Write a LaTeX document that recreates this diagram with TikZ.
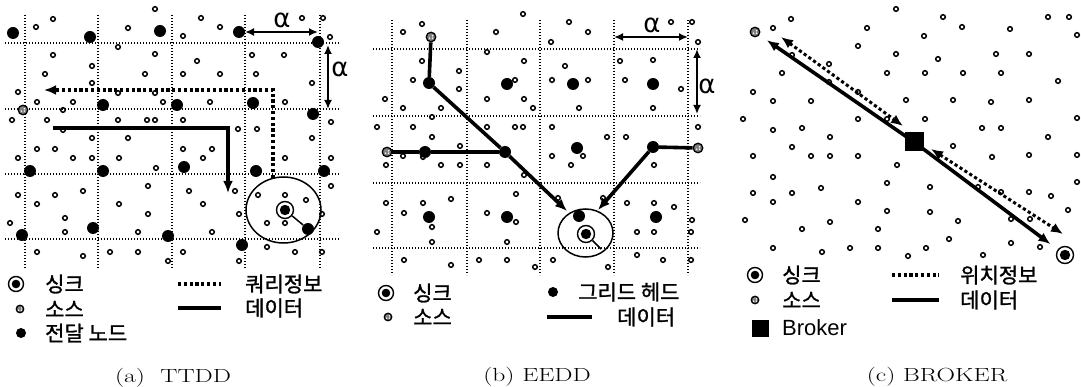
\documentclass[tikz,border=0pt]{standalone}
\usepackage{fontspec}
\newfontfamily\kr[FakeBold=1.2]{Noto Sans CJK KR}
\newfontfamily\lib{Liberation Sans}
\newfontfamily\dvs{DejaVu Sans}
\usetikzlibrary{arrows.meta,shapes.geometric}
\tikzset{
  gridln/.style={line width=1.6pt, dash pattern=on 1.4pt off 1.6pt},
  sm/.style={line width=1.5pt},
  gh/.style={circle, fill=black, inner sep=0pt, minimum size=12pt},
  src/.style={circle, draw=black, line width=1.3pt, fill=black!50, inner sep=0pt, minimum size=9.5pt,
     path picture={\fill[white] ([shift={(-1.5pt,-1.2pt)}]path picture bounding box.center) circle (0.8pt)
                               ([shift={(1.5pt,1.2pt)}]path picture bounding box.center) circle (0.8pt)
                               ([shift={(1.5pt,-1.2pt)}]path picture bounding box.center) circle (0.8pt);}},
  sinkn/.style={circle, draw=black, line width=1.4pt, inner sep=0pt, minimum size=17pt,
     path picture={\fill[black] (path picture bounding box.center) circle (5.2pt);}},
  datal/.style={line width=3.6pt},
  qry/.style={line width=3.6pt, dash pattern=on 3.2pt off 2.6pt},
  tip/.style={-{Latex[length=12pt,width=10pt]}},
  alph/.style={line width=1.8pt, {Latex[length=9pt,width=8pt]}-{Latex[length=9pt,width=8pt]}},
  lbl/.style={font=\kr\fontsize{21}{21}\selectfont, anchor=west, inner sep=0pt},
  albl/.style={font=\dvs\fontsize{26}{26}\selectfont, inner sep=0pt},
  capn/.style={font=\fontsize{19}{19}\selectfont, inner sep=0pt},
  rng/.style={ellipse, draw=black, line width=1.5pt, inner sep=0pt},
  thin/.style={line width=1.5pt}
}
\begin{document}
\begin{tikzpicture}[x=1pt,y=-1pt]
\useasboundingbox (0,0) rectangle (1081,387);
\fill[white] (0,0) rectangle (1081,387);

% ================= (a) TTDD =================
\foreach \y in {43,109,174,239} \draw[gridln] (5,\y) -- (340,\y);
\foreach \x in {25,98,172,245,320} \draw[gridln] (\x,15) -- (\x,268);
\foreach \x/\y in {155/9,53/19,36/27,128/28,201/18,220/27,302/18,323/18,330/37,183/36,118/47,53/55,155/54,197/61,252/55,284/55,92/66,45/74,145/74,183/74,220/74,256/74,312/83,92/83,18/92,118/93,155/93,37/102,73/102,163/102,210/102,285/102,63/110,12/120,47/120,118/120,147/120,155/120,183/120,238/129,257/129,331/122,63/130,92/138,128/138,312/138,37/149,55/149,18/158,73/158,92/158,119/158,183/149,212/149,203/158,156/168,285/158,331/158,331/186,148/186,83/191,55/195,18/195,189/191,235/191,258/195,285/195,306/200,37/204,119/204,203/204,148/214,239/214,322/214,65/218,267/223,285/223,10/223,65/232,138/232,212/232,267/247,295/252,322/252,37/252,83/256,110/252,138/252,183/252,168/261,239/261}
  \draw[sm] (\x,\y) circle (2.3pt);
\foreach \x/\y [count=\i] in {13/33,90/37,160/31,239/32,318/42,103/105,177/105,253/103,313/114,30/171,103/171,184/167,256/171,324/171,22/235,93/228,168/236,242/245}
  \node[gh] (fa\i) at (\x,\y) {};
\node[src] (srcA) at (23,110) {};
\node[rng, minimum width=75pt, minimum height=66pt] (rangeA) at (283.5,210) {};
\node[sinkn] (sinkA) at (285,210) {};
\node[gh] (fnA) at (308,229) {};
\draw[thin] (sinkA) -- (fnA);
\coordinate (q0) at (273,178);
\coordinate (q1) at (44,90);
\draw[qry, tip] (q0) |- (q1);
\coordinate (d0) at (53,128);
\coordinate (d1) at (228,193);
\draw[datal, tip] (d0) -| (d1);
\coordinate (aa1) at (245,32); \coordinate (aa2) at (318,32);
\draw[alph] (aa1) -- (aa2);
\node[albl] (alA1) at (282,20) {α};
\coordinate (ab1) at (328,45); \coordinate (ab2) at (328,109);
\draw[alph] (ab1) -- (ab2);
\node[albl] (alA2) at (340,69) {α};

% legend (a)
\node[sinkn, minimum size=15pt, path picture={\fill[black] (path picture bounding box.center) circle (4.3pt);}] (lsA) at (16,284) {};
\node[lbl] (tA1) at (45,284) {싱크};
\node[src, minimum size=7.5pt] (lrA) at (20,309) {};
\node[lbl] (tA2) at (45,309) {소스};
\node[gh, minimum size=10pt] (lfA) at (21,333) {};
\node[lbl] (tA3) at (45,333) {전달 노드};
\coordinate (lqA0) at (178,284); \coordinate (lqA1) at (221,284);
\draw[qry] (lqA0) -- (lqA1);
\node[lbl] (tA4) at (245,284) {쿼리정보};
\coordinate (ldA0) at (178,308); \coordinate (ldA1) at (221,308);
\draw[datal] (ldA0) -- (ldA1);
\node[lbl] (tA5) at (245,308) {데이터};
\node[capn] (capA) at (173,378) {\scalebox{1.35}[1]{(a)\ \ TTDD}};

% ================= (b) EEDD =================
\foreach \y in {49,116,183,248} \draw[gridln] (373,\y) -- (700,\y);
\foreach \x in {392,467,540,614,688} \draw[gridln] (\x,20) -- (\x,275);
\foreach \x/\y in {523/14,422/24,403/32,496/32,569/22,588/32,551/42,671/22,692/22,698/42,487/52,422/61,524/61,565/66,620/61,653/60,459/71,413/80,515/80,552/80,588/80,625/80,681/89,459/89,385/99,487/99,524/99,403/108,441/108,533/108,579/108,653/108,432/117,377/127,413/127,487/127,515/127,523/127,552/127,607/137,626/137,698/127,432/137,460/146,403/156,423/157,386/165,441/165,460/165,487/165,552/156,571/165,583/156,654/165,524/175,516/194,386/203,423/203,451/199,558/198,603/198,627/203,654/203,674/207,692/220,404/213,487/213,432/227,516/222,377/232,432/242,507/242,637/232,654/232,691/232,404/260,451/265,479/260,507/260,553/260,535/267,608/267,637/255,663/260,691/260}
  \draw[sm] (\x,\y) circle (2.3pt);
\foreach \x/\y [count=\i] in {507/84,573/84,653/84,577/148,429/217,507/217,656/217}
  \node[gh] (gb\i) at (\x,\y) {};
\node[gh] (ghB1) at (429,83) {};
\node[gh] (ghB2) at (505,152) {};
\node[gh] (ghB3) at (425,152) {};
\node[gh] (ghB4) at (653,147) {};
\node[src] (srcB1) at (431,37) {};
\node[src] (srcB2) at (387,152) {};
\node[src] (srcB3) at (698,148) {};
\node[rng, minimum width=55pt, minimum height=48pt] (rangeB) at (585.5,233) {};
\node[gh] (ghB5) at (579,216) {};
\node[sinkn] (sinkB) at (586,234) {};
\coordinate (sbE) at (601,249);
\draw[thin] (sinkB) -- (sbE);
\draw[datal] (srcB1) -- (ghB1) -- (ghB2);
\draw[datal] (srcB2) -- (ghB3) -- (ghB2);
\coordinate (bt1) at (567,211);
\draw[datal, tip] (ghB2) -- (bt1);
\draw[datal] (srcB3) -- (ghB4);
\coordinate (bt2) at (598,210);
\draw[datal, tip] (ghB4) -- (bt2);
\coordinate (ba1) at (614,37); \coordinate (ba2) at (688,37);
\draw[alph] (ba1) -- (ba2);
\node[albl] (alB1) at (652,25) {α};
\coordinate (bb1) at (697,49); \coordinate (bb2) at (697,114);
\draw[alph] (bb1) -- (bb2);
\node[albl] (alB2) at (707,86) {α};

% legend (b)
\node[sinkn, minimum size=15pt, path picture={\fill[black] (path picture bounding box.center) circle (4.3pt);}] (lsB) at (386,293) {};
\node[lbl] (tB1) at (413,293) {싱크};
\node[src, minimum size=7.5pt] (lrB) at (388,317) {};
\node[lbl] (tB2) at (413,317) {소스};
\node[gh, minimum size=10pt] (lfB) at (553,292) {};
\node[lbl] (tB3) at (578,292) {그리드 헤드};
\coordinate (ldB0) at (547,317); \coordinate (ldB1) at (592,317);
\draw[datal] (ldB0) -- (ldB1);
\node[lbl] (tB4) at (617,317) {데이터};
\node[capn] (capB) at (537,377) {\scalebox{1.35}[1]{(b)\ EEDD}};

% ================= (c) BROKER =================
\foreach \x/\y in {896/9,791/19,773/28,867/28,943/17,962/27,1010/29,1048/17,1069/17,1077/35,924/36,858/46,792/55,896/54,938/59,996/54,1029/54,829/64,782/73,887/73,925/73,963/73,1001/73,1058/81,829/82,753/92,858/92,773/101,811/101,906/100,953/100,991/102,1029/100,743/119,858/119,887/119,925/119,1077/118,773/130,802/128,982/128,1001/128,830/137,1048/137,792/147,753/156,811/156,830/156,858/156,953/146,992/157,1029/155,1077/155,897/165,773/177,753/193,792/193,821/188,773/202,858/202,887/183,930/187,978/187,1001/192,1029/192,1051/196,1077/182,1068/210,887/211,930/212,745/220,802/229,830/222,878/229,958/221,1011/219,1030/219,773/248,822/252,850/248,878/248,926/248,949/239,1011/243,1040/247,908/256,983/255}
  \draw[sm] (\x,\y) circle (2.3pt);
\node[src] (srcC) at (755,32) {};
\node[sinkn] (sinkC) at (1065,255) {};
\node[fill=black, minimum width=19pt, minimum height=19pt, inner sep=0pt] (brk) at (914,142) {};
\draw[datal, tip, shorten >=9pt] (brk.center) -- (srcC);
\draw[datal, tip, shorten >=9pt] (brk.center) -- (sinkC);
\coordinate (dc1) at (781,37); \coordinate (dc2) at (903,126);
\draw[qry, line width=3pt, {Latex[length=12pt,width=10pt]}-{Latex[length=12pt,width=10pt]}] (dc1) -- (dc2);
\coordinate (dc3) at (931,149); \coordinate (dc4) at (1063,234);
\draw[qry, line width=3pt, {Latex[length=12pt,width=10pt]}-{Latex[length=12pt,width=10pt]}] (dc3) -- (dc4);

% legend (c)
\node[sinkn, minimum size=15pt, path picture={\fill[black] (path picture bounding box.center) circle (4.3pt);}] (lsC) at (755,275) {};
\node[lbl] (tC1) at (782,275) {싱크};
\node[src, minimum size=7.5pt] (lrC) at (755,300) {};
\node[lbl] (tC2) at (782,300) {소스};
\node[fill=black, minimum width=17pt, minimum height=17pt, inner sep=0pt] (lbC) at (760,328) {};
\node[lbl, font=\lib\fontsize{22}{22}\selectfont] (tC3) at (782,328) {Broker};
\coordinate (lqC0) at (892,275); \coordinate (lqC1) at (939,275);
\draw[qry] (lqC0) -- (lqC1);
\node[lbl] (tC4) at (960,275) {위치정보};
\coordinate (ldC0) at (892,300); \coordinate (ldC1) at (939,300);
\draw[datal] (ldC0) -- (ldC1);
\node[lbl] (tC5) at (960,300) {데이터};
\node[capn] (capC) at (937,377) {\scalebox{1.35}[1]{(c)\ BROKER}};
\end{tikzpicture}
\end{document}
